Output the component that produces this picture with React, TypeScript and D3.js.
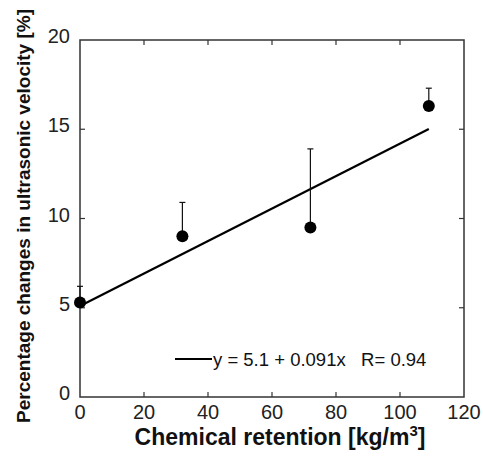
import { useEffect, useRef } from 'react'
import * as d3 from 'd3'

// measured points
const retention = [0, 32, 72, 109]
const velocityChange = [5.3, 9.0, 9.5, 16.3]
const errorTop = [6.2, 10.9, 13.9, 17.3]

// fitted line y = a + b x
const fitA = 5.1
const fitB = 0.091
const fitRange = [0, 109]

const xTicks = [0, 20, 40, 60, 80, 100, 120]
const yTicks = [0, 5, 10, 15, 20]

export default function App() {
  const rootRef = useRef<SVGSVGElement>(null)

  useEffect(() => {
    const width = 483,
      height = 460
    const margin = { top: 40, right: 19, bottom: 63, left: 80 }

    const svg = d3.select(rootRef.current)
    svg.selectAll('*').remove()

    const x = d3.scaleLinear().domain([0, 120]).range([margin.left, width - margin.right])
    const y = d3.scaleLinear().domain([0, 20]).range([height - margin.bottom, margin.top])

    const axisColor = '#333'
    const font = 'Liberation Sans, Arial, sans-serif'

    // frame
    svg
      .append('rect')
      .attr('x', x(0))
      .attr('y', y(20))
      .attr('width', x(120) - x(0))
      .attr('height', y(0) - y(20))
      .attr('fill', 'none')
      .attr('stroke', axisColor)
      .attr('stroke-width', 1.5)

    const tl = 5
    // ticks inside on all sides
    const g = svg.append('g').attr('stroke', axisColor).attr('stroke-width', 1.2)
    xTicks.slice(1, -1).forEach((t) => {
      g.append('line').attr('x1', x(t)).attr('x2', x(t)).attr('y1', y(0)).attr('y2', y(0) - tl)
      g.append('line').attr('x1', x(t)).attr('x2', x(t)).attr('y1', y(20)).attr('y2', y(20) + tl)
    })
    yTicks.slice(1, -1).forEach((t) => {
      g.append('line').attr('x1', x(0)).attr('x2', x(0) + tl).attr('y1', y(t)).attr('y2', y(t))
      g.append('line').attr('x1', x(120)).attr('x2', x(120) - tl).attr('y1', y(t)).attr('y2', y(t))
    })

    // tick labels
    svg
      .append('g')
      .selectAll('text')
      .data(xTicks)
      .join('text')
      .attr('x', (d) => x(d))
      .attr('y', y(0) + 22)
      .attr('text-anchor', 'middle')
      .attr('font-family', font)
      .attr('font-size', 20)
      .attr('fill', '#222')
      .text((d) => d)

    svg
      .append('g')
      .selectAll('text')
      .data(yTicks)
      .join('text')
      .attr('x', x(0) - 10)
      .attr('y', (d) => y(d) + 3)
      .attr('text-anchor', 'end')
      .attr('font-family', font)
      .attr('font-size', 20)
      .attr('fill', '#222')
      .text((d) => d)

    // axis titles
    const xt = svg
      .append('text')
      .attr('x', 280)
      .attr('y', 445)
      .attr('text-anchor', 'middle')
      .attr('font-family', font)
      .attr('font-weight', 'bold')
      .attr('font-size', 23)
      .attr('fill', '#111')
    xt.append('tspan').text('Chemical retention [kg/m')
    xt.append('tspan').attr('font-size', 15).attr('dy', -9).text('3')
    xt.append('tspan').attr('dy', 9).text(']')

    svg
      .append('text')
      .attr('transform', 'translate(30,216) rotate(-90)')
      .attr('text-anchor', 'middle')
      .attr('font-family', font)
      .attr('font-weight', 'bold')
      .attr('font-size', 19)
      .attr('fill', '#111')
      .text('Percentage changes in ultrasonic velocity [%]')

    // fit line
    svg
      .append('line')
      .attr('x1', x(fitRange[0]))
      .attr('y1', y(fitA + fitB * fitRange[0]))
      .attr('x2', x(fitRange[1]))
      .attr('y2', y(fitA + fitB * fitRange[1]))
      .attr('stroke', '#000')
      .attr('stroke-width', 2.2)

    const pts = retention.map((r, i) => ({ x: r, y: velocityChange[i], e: errorTop[i] }))

    // error bars (upper only)
    const eb = svg.append('g').attr('stroke', '#111').attr('stroke-width', 1.2)
    pts.forEach((p) => {
      eb.append('line').attr('x1', x(p.x)).attr('x2', x(p.x)).attr('y1', y(p.y)).attr('y2', y(p.e))
      eb.append('line').attr('x1', x(p.x) - 3).attr('x2', x(p.x) + 3).attr('y1', y(p.e)).attr('y2', y(p.e))
    })

    svg
      .append('g')
      .selectAll('circle')
      .data(pts)
      .join('circle')
      .attr('cx', (d) => x(d.x))
      .attr('cy', (d) => y(d.y))
      .attr('r', 6)
      .attr('fill', '#000')

    // legend
    svg
      .append('line')
      .attr('x1', 175)
      .attr('x2', 212)
      .attr('y1', 359)
      .attr('y2', 359)
      .attr('stroke', '#000')
      .attr('stroke-width', 2.2)
    svg
      .append('text')
      .attr('x', 213)
      .attr('y', 366)
      .attr('font-family', font)
      .attr('font-size', 18.5)
      .attr('fill', '#111')
      .attr('xml:space', 'preserve')
      .style('white-space', 'pre')
      .text('y = 5.1 + 0.091x   R= 0.94')
  }, [])

  return (
    <svg
      ref={rootRef}
      width={483}
      height={460}
      style={{ position: 'absolute', left: 0, top: 0, background: '#fff' }}
    />
  )
}
